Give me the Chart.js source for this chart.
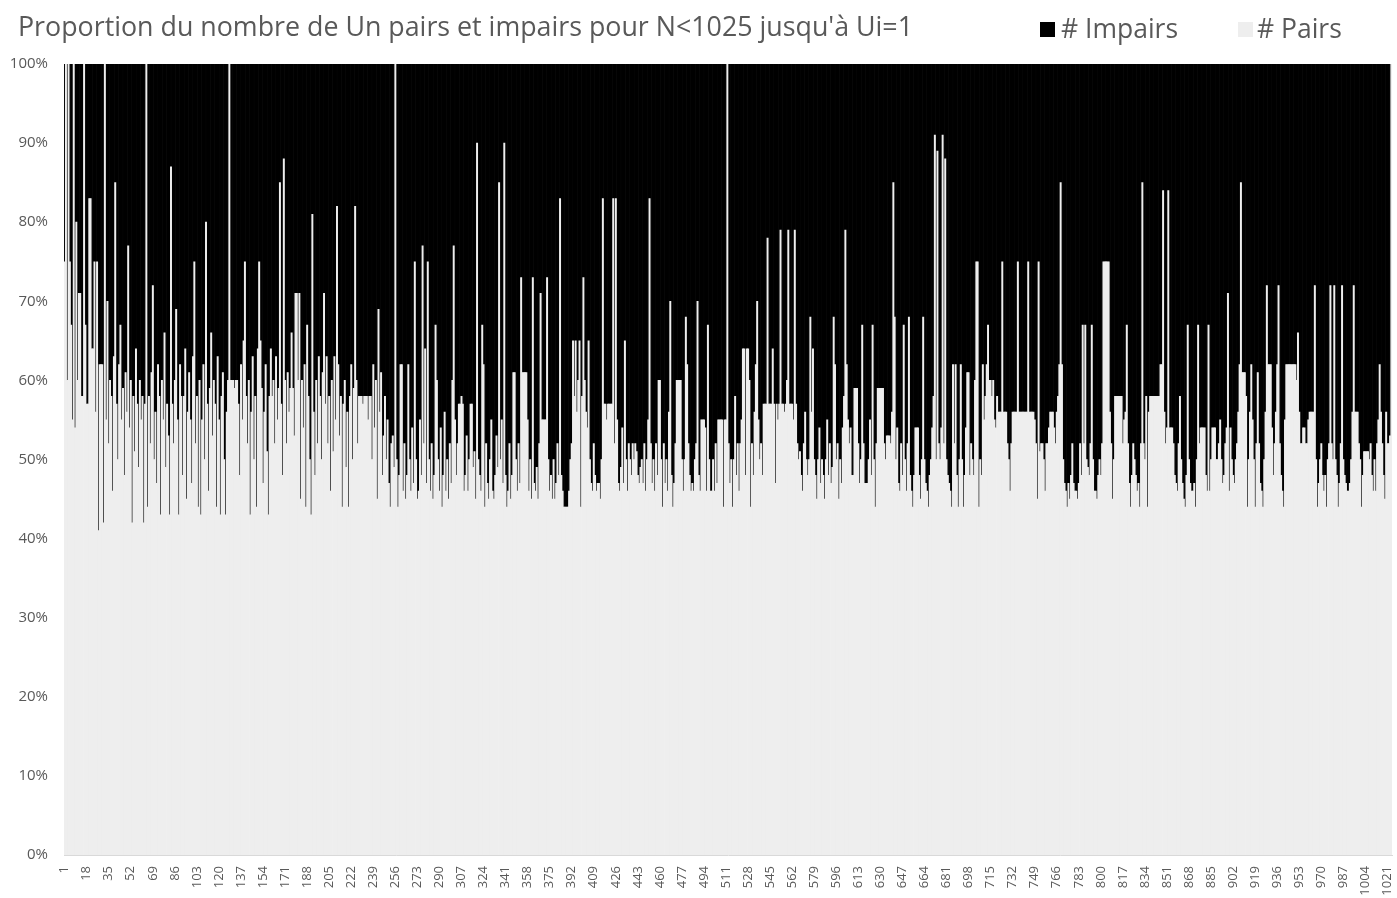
<!DOCTYPE html>
<html>
<head>
<meta charset="utf-8">
<script src="https://cdn.jsdelivr.net/npm/chart.js@4.4.1/dist/chart.umd.min.js"></script>
<style>
  body { margin: 0; background: #ffffff; }
  #wrap { width: 1397px; height: 898px; position: relative; }
</style>
</head>
<body>
<div id="wrap"><canvas id="collatzChart"></canvas></div>
<script>
// % of even terms (# Pairs) for N = 1..1024 (32 per line)
const pairsPct = [
  75,100,60,100,75,67,55,100,54,80,60,71,71,58,58,100,67,57,57,83,83,64,64,75,56,75,41,62,62,62,42,100,
  55,70,52,60,58,46,63,85,57,50,62,67,55,59,48,61,56,77,54,60,42,58,51,64,57,49,60,55,58,42,57,100,
  44,58,52,61,72,50,56,47,62,58,43,60,55,66,49,57,53,43,87,57,52,60,69,55,43,62,58,48,58,64,45,56,
  61,55,47,63,75,52,58,44,60,43,55,62,50,80,57,46,59,66,53,60,57,44,63,55,43,58,61,50,43,56,60,100,
  60,60,60,59,60,60,57,48,62,55,65,75,58,52,60,43,56,63,50,58,44,64,75,65,59,47,56,62,51,43,58,64,
  58,60,52,63,55,59,85,57,48,88,60,52,61,56,59,66,59,53,71,71,60,71,45,60,54,62,44,67,58,50,43,81,
  56,48,60,52,63,58,50,61,71,57,63,52,58,46,60,51,63,55,82,62,53,58,44,57,60,49,56,44,58,62,50,59,
  82,60,52,58,58,58,57,58,58,58,55,58,58,50,62,54,60,45,69,56,61,48,53,58,50,55,47,44,52,53,49,100,
  50,44,48,62,62,46,52,45,48,62,50,46,54,47,75,50,45,46,55,48,77,52,64,47,75,50,46,52,45,48,67,60,
  50,46,54,44,48,56,46,50,45,52,47,60,77,55,48,52,57,57,58,57,46,48,53,46,50,57,57,49,51,45,90,50,
  48,46,67,62,44,52,47,45,50,55,46,45,48,53,49,85,50,55,47,90,48,44,46,52,45,48,61,61,50,46,52,47,
  73,61,61,61,61,55,46,50,45,73,47,46,49,45,52,71,55,55,55,55,73,50,46,48,45,50,45,47,52,48,83,48,
  46,44,44,44,44,46,50,52,65,58,65,56,60,65,44,58,73,60,56,54,65,50,47,46,52,48,46,47,47,45,50,83,
  57,57,55,57,57,57,57,83,52,83,55,47,46,49,54,47,65,50,46,52,50,48,52,50,52,51,48,47,49,50,47,52,
  46,50,55,83,52,47,50,46,52,48,60,60,50,44,52,47,50,46,56,70,48,44,47,52,60,60,60,60,50,46,50,68,
  62,52,48,46,47,46,50,52,70,48,46,55,55,55,54,46,67,50,46,46,50,46,52,47,55,55,55,55,44,55,55,100,
  52,47,50,44,50,58,48,52,46,52,55,64,64,48,64,64,60,44,52,48,56,62,70,55,50,52,48,57,57,57,78,57,
  57,57,64,57,47,57,55,57,79,57,57,56,57,60,79,57,57,57,55,79,57,52,50,51,48,46,52,56,50,48,50,68,
  56,64,50,48,45,50,54,47,50,48,45,50,55,48,52,47,49,68,62,50,52,45,50,47,54,58,79,62,55,52,54,48,
  48,59,59,59,52,47,50,67,52,47,47,47,50,55,48,67,50,44,52,59,59,59,59,59,52,50,53,53,53,52,56,85,
  68,50,54,47,46,52,48,67,50,46,52,68,48,46,44,48,54,54,54,48,45,50,68,50,47,46,44,48,50,54,58,91,
  50,89,52,50,54,91,52,88,50,48,47,46,44,62,52,62,48,44,50,62,50,44,48,54,61,61,48,52,50,48,60,75,
  75,44,50,48,62,55,58,62,67,60,60,58,60,55,54,58,56,56,56,75,56,56,56,52,50,46,52,56,56,56,56,75,
  56,56,56,56,56,56,56,75,56,56,56,56,55,52,45,75,51,52,52,50,46,52,52,54,56,56,56,54,52,56,58,62,
  85,62,50,47,46,44,47,45,48,52,47,46,46,45,47,52,48,67,52,67,50,49,48,52,67,50,46,46,45,48,50,48,
  52,75,75,75,75,75,56,52,45,50,58,58,58,58,58,58,52,55,56,67,52,47,44,48,52,50,48,46,47,44,52,85,
  52,50,58,44,56,58,58,58,58,58,58,58,58,62,62,84,56,52,54,84,54,54,54,52,48,47,46,52,58,50,47,45,
  44,48,67,50,47,46,46,47,44,50,67,52,54,54,54,54,48,46,67,46,50,54,54,54,50,50,52,55,50,47,48,52,
  54,71,46,54,50,48,47,50,52,56,62,85,61,61,61,58,44,50,56,62,55,50,44,52,61,52,47,46,44,50,56,72,
  62,62,62,54,48,52,56,62,72,52,48,46,44,55,62,62,62,62,62,62,62,62,60,66,56,52,52,54,54,52,52,55,
  56,56,56,56,72,50,44,47,50,52,48,46,48,44,50,52,72,52,50,72,50,48,44,47,52,72,50,48,47,46,46,47,
  50,56,72,56,56,56,52,50,44,48,51,51,51,51,50,52,48,46,50,46,52,55,62,56,52,48,45,56,52,52,53,100
];

// tick labels printed under the axis
const shownTicks = [1,18,35,52,69,86,103,120,137,154,171,188,205,222,239,256,273,290,307,324,341,358,
  375,392,409,426,443,460,477,494,511,528,545,562,579,596,613,630,647,664,681,698,715,732,749,766,783,
  800,817,834,851,868,885,902,919,936,953,970,987,1004,1021];

const nLabels = pairsPct.map((v, i) => String(i + 1));
const impairsPct = pairsPct.map(v => 100 - v);

const titleText = "Proportion du nombre de Un pairs et impairs pour N<1025 jusqu'à Ui=1";
const textGray = '#595959';
const pairsColor = '#eeeeee';
const impairsColor = '#000000';
const fontFamily = "'Open Sans', 'Liberation Sans', sans-serif";

// title on the left and legend on the right, both on the same top line
const headerPlugin = {
    id: 'header',
    afterDraw(chart) {
        const ctx = chart.ctx;
        ctx.save();
        ctx.font = '26.8px ' + fontFamily;
        ctx.textBaseline = 'middle';
        ctx.fillStyle = textGray;
        ctx.fillText(titleText, 18, 28);

        ctx.font = '26.5px ' + fontFamily;
        ctx.fillStyle = impairsColor;
        ctx.fillRect(1040, 22, 15, 15);
        ctx.fillStyle = textGray;
        ctx.fillText('# Impairs', 1061, 30);
        ctx.fillStyle = pairsColor;
        ctx.fillRect(1238, 22, 15, 15);
        ctx.fillStyle = textGray;
        ctx.fillText('# Pairs', 1257, 30);
        ctx.restore();
    }
};

new Chart(document.getElementById('collatzChart'), {
    type: 'bar',
    data: {
        labels: nLabels,
        datasets: [{
            label: '# Pairs',
            data: pairsPct,
            backgroundColor: pairsColor,
            borderWidth: 0,
            barPercentage: 1,
            categoryPercentage: 1
        }, {
            label: '# Impairs',
            data: impairsPct,
            backgroundColor: impairsColor,
            borderWidth: 0,
            barPercentage: 1,
            categoryPercentage: 1
        }]
    },
    options: {
        responsive: true,
        maintainAspectRatio: false,
        animation: false,
        layout: {
            padding: { left: 0, right: 5, top: 64, bottom: 0 }
        },
        plugins: {
            legend: { display: false },
            tooltip: { enabled: false },
            title: { display: false }
        },
        scales: {
            x: {
                stacked: true,
                grid: { display: false },
                border: { display: true, color: '#d9d9d9' },
                afterFit: function(scale) {
                    scale.height = 43;
                    scale.paddingLeft = 0;
                    scale.paddingRight = 0;
                },
                ticks: {
                    autoSkip: false,
                    minRotation: 90,
                    maxRotation: 90,
                    padding: 3,
                    color: textGray,
                    font: { family: fontFamily, size: 13 },
                    callback: function(value) {
                        const lab = this.getLabelForValue(value);
                        return shownTicks.includes(Number(lab)) ? lab : '';
                    }
                }
            },
            y: {
                stacked: true,
                min: 0,
                max: 100,
                grid: { display: false, drawTicks: false },
                border: { display: false },
                afterFit: function(scale) {
                    scale.width = 64;
                    scale.paddingTop = 0;
                },
                ticks: {
                    stepSize: 10,
                    padding: 16,
                    color: textGray,
                    font: { family: fontFamily, size: 15 },
                    callback: function(value) { return value + '%'; }
                }
            }
        }
    },
    plugins: [headerPlugin]
});
</script>
</body>
</html>
